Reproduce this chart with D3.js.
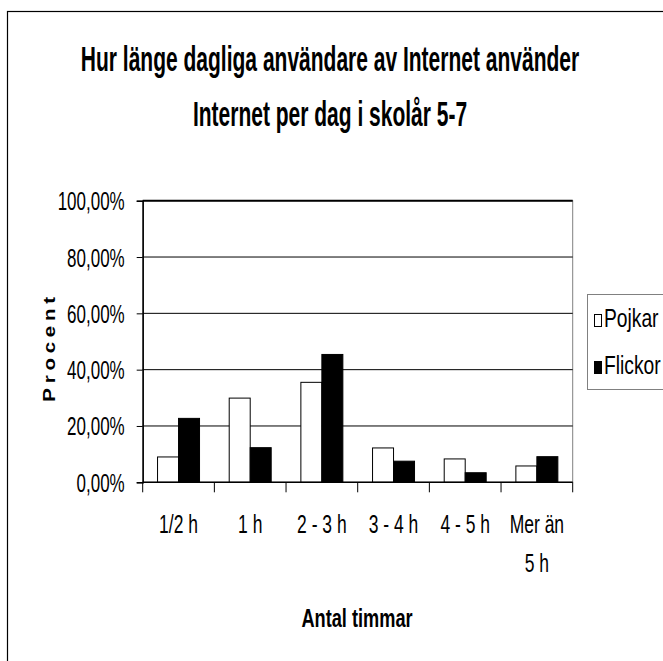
<!DOCTYPE html>
<html lang="sv">
<head>
    <meta charset="UTF-8">
    <title>internet-skolar</title>
    <style>
        body { margin: 0; background: #fff; }
        svg text { font-family: "Liberation Sans", Arial, sans-serif; fill: #000; }
    </style>
    <script src="https://d3js.org/d3.v7.min.js"></script>
</head>
<body>
<script>

    // data
    let categories = ["1/2 h", "1 h", "2 - 3 h", "3 - 4 h", "4 - 5 h", "Mer än|5 h"];
    let seriesNames = ["Pojkar", "Flickor"];
    let pojkar = [0.090, 0.299, 0.355, 0.122, 0.083, 0.058];
    let flickor = [0.227, 0.123, 0.454, 0.075, 0.034, 0.091];
    let yTicks = [0, 0.2, 0.4, 0.6, 0.8, 1.0];

    let width = 663, height = 661;
    let plot = {left: 142.7, right: 572.7, top: 200.7, bottom: 482.3};

    let svg = d3.select("body").append("svg")
        .attr("width", width).attr("height", height);

    // narrow text: the source font is a condensed one, so squeeze horizontally
    function narrowText(parent, x, y, str, size, sx, opts) {
        opts = opts || {};
        let g = parent.append("g").attr("transform", "translate(" + x + "," + y + ") scale(" + sx + ",1)");
        return g.append("text")
            .attr("text-anchor", opts.anchor || "middle")
            .style("font-size", size + "px")
            .style("font-weight", opts.bold ? "bold" : "normal")
            .text(str);
    }

    // outer chart border (runs off right and bottom)
    svg.append("rect")
        .attr("x", 7.5).attr("y", 11.5)
        .attr("width", 700).attr("height", 700)
        .attr("fill", "none").attr("stroke", "#000").attr("stroke-width", 1.2);

    // title
    narrowText(svg, 330, 71, "Hur länge dagliga användare av Internet använder", 35, 0.6, {bold: true});
    narrowText(svg, 330, 126, "Internet per dag i skolår 5-7", 35, 0.6, {bold: true});

    let x0 = d3.scaleBand().domain(categories).range([plot.left, plot.right]).padding(0);
    let x1 = d3.scaleBand().domain(seriesNames).range([0, x0.bandwidth()]).paddingInner(0).paddingOuter(0.707);
    let y = d3.scaleLinear().domain([0, 1]).range([plot.bottom, plot.top]);

    // plot border
    svg.append("rect")
        .attr("x", plot.left).attr("y", plot.top)
        .attr("width", plot.right - plot.left).attr("height", plot.bottom - plot.top)
        .attr("fill", "none").attr("stroke", "#808080");

    // gridlines
    svg.append("g").selectAll("line")
        .data(yTicks.slice(1))
        .enter().append("line")
        .attr("x1", plot.left).attr("x2", plot.right)
        .attr("y1", d => y(d)).attr("y2", d => y(d))
        .attr("stroke", "#000").attr("stroke-width", d => d === 1 ? 2 : 1);

    // bars
    let rows = categories.map((c, i) => ({cat: c, values: [
        {name: "Pojkar", v: pojkar[i]}, {name: "Flickor", v: flickor[i]}]}));

    svg.append("g").selectAll("g")
        .data(rows)
        .enter().append("g")
        .attr("transform", d => "translate(" + x0(d.cat) + ",0)")
        .selectAll("rect")
        .data(d => d.values)
        .enter().append("rect")
        .attr("x", d => x1(d.name))
        .attr("width", x1.bandwidth())
        .attr("y", d => y(d.v))
        .attr("height", d => y(0) - y(d.v))
        .attr("fill", d => d.name === "Pojkar" ? "#fff" : "#000")
        .attr("stroke", "#000").attr("stroke-width", 1);

    // y axis
    let sxTick = 0.68;
    let yAxis = d3.axisLeft(y).tickValues(yTicks).tickSize(6).tickPadding(13)
        .tickFormat(d => d3.format(".2f")(d * 100).replace(".", ",") + "%");
    let yg = svg.append("g").attr("transform", "translate(" + plot.left + ",0)").call(yAxis);
    yg.select(".domain").attr("stroke", "#000").attr("stroke-width", 1.5);
    yg.selectAll(".tick line").attr("stroke", "#000");
    yg.selectAll("text")
        .style("font-size", "25px")
        .attr("dy", "0.36em")
        .attr("x", -18 / sxTick)
        .attr("transform", "scale(" + sxTick + ",1)");

    // x axis line and boundary ticks
    svg.append("line")
        .attr("x1", plot.left).attr("x2", plot.right)
        .attr("y1", plot.bottom).attr("y2", plot.bottom)
        .attr("stroke", "#000").attr("stroke-width", 1.5);
    let bounds = categories.map(c => x0(c)).concat([plot.right]);
    svg.append("g").selectAll("line")
        .data(bounds)
        .enter().append("line")
        .attr("x1", d => d).attr("x2", d => d)
        .attr("y1", plot.bottom).attr("y2", plot.bottom + 10)
        .attr("stroke", "#000");

    // x labels
    categories.forEach(c => {
        c.split("|").forEach((p, i) => {
            narrowText(svg, x0(c) + x0.bandwidth() / 2, 533 + i * 39, p, 25, 0.7);
        });
    });

    // axis titles
    narrowText(svg, 357, 627, "Antal timmar", 26, 0.7, {bold: true});

    svg.append("g")
        .attr("transform", "translate(55,347) rotate(-90) scale(1.2,1)")
        .append("text")
        .attr("text-anchor", "middle")
        .style("font-weight", "bold").style("font-size", "17px")
        .style("letter-spacing", "4px")
        .text("Procent");

    // legend
    svg.append("rect")
        .attr("x", 587.5).attr("y", 294.5)
        .attr("width", 100).attr("height", 95)
        .attr("fill", "#fff").attr("stroke", "#808080");

    let legend = svg.append("g").selectAll("g")
        .data(seriesNames)
        .enter().append("g")
        .attr("transform", (d, i) => "translate(594," + (i * 47) + ")");
    legend.append("rect")
        .attr("x", 0.5).attr("y", 314.5)
        .attr("width", 7).attr("height", 12)
        .attr("fill", d => d === "Pojkar" ? "#fff" : "#000")
        .attr("stroke", "#000");
    legend.each(function (d) {
        narrowText(d3.select(this), 10, 327, d, 25, 0.77, {anchor: "start"});
    });

</script>
</body>
</html>
